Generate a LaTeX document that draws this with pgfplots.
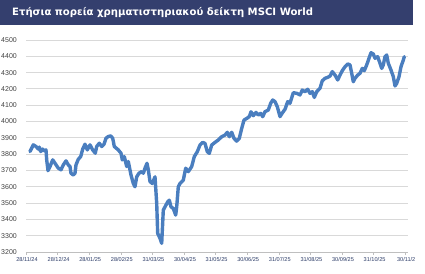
\documentclass[border=0pt]{standalone}
\usepackage{pgfplots}
\pgfplotsset{compat=1.18}
\usepackage{fontspec}
\setmainfont{Liberation Sans}
\newfontfamily\titlefont{DejaVu Sans}
\definecolor{navy}{HTML}{343F6E}
\definecolor{lineblue}{HTML}{4A7EBF}
\definecolor{gridgray}{HTML}{D9D9D9}
\definecolor{xlab}{HTML}{2A3A66}
\definecolor{ylab}{HTML}{404040}
\begin{document}
\begin{tikzpicture}[x=1pt,y=1pt]
\useasboundingbox (0,0) rectangle (425,273);
\fill[navy] (0,248) rectangle (413,273);
\node[anchor=west,text=white,inner sep=0pt,font=\titlefont\bfseries\fontsize{10.1}{12}\selectfont] at (12,260.5) {Ετήσια πορεία χρηματιστηριακού δείκτη MSCI World};
\begin{axis}[
  at={(26pt,21pt)}, anchor=south west,
  scale only axis, width=382pt, height=212pt,
  xmin=0, xmax=382, ymin=3200, ymax=4500,
  ytick={3200,3300,...,4500},
  xtick={0,31.6,63.2,94.8,126.4,158,189.6,221.2,252.8,284.4,316,347.6,379.2},
  xticklabels={28/11/24,28/12/24,28/01/25,28/02/25,31/03/25,30/04/25,31/05/25,30/06/25,31/07/25,31/08/25,30/09/25,31/10/25,30/11/2},
  axis x line*=bottom, axis y line*=left,
  x axis line style={draw=gray!50, line width=0.8pt, -},
  y axis line style={draw=none},
  ytick style={draw=none},
  xtick style={draw=gray!50, line width=0.6pt},
  tick align=outside, major tick length=3pt,
  ymajorgrids, grid style={gridgray, line width=0.9pt},
  yticklabel style={font=\fontsize{7}{8}\selectfont, text=ylab, inner sep=0pt, xshift=-6pt},
  xticklabel style={font=\fontsize{5.6}{6}\selectfont, text=xlab, inner sep=0pt, yshift=-2.5pt, xshift=1pt},
  /pgf/number format/assume math mode=true,
  yticklabel={\pgfmathprintnumber[fixed,1000 sep={}]{\tick}},
  clip=false,
]
\addplot[lineblue, line width=3.4pt, line join=round, line cap=round] coordinates {
(4.0,3816) (7.3,3857) (10.0,3847) (12.3,3831) (13.3,3843) (14.7,3816) (16.7,3831) (18.3,3820) (20.0,3826)
(20.7,3765) (22.0,3699) (24.0,3724) (26.7,3765) (29.0,3744) (32.3,3714) (35.0,3704) (37.3,3734) (40.0,3759)
(42.3,3734) (44.0,3724) (45.0,3683) (47.3,3672) (49.0,3683) (50.0,3734) (52.3,3769) (54.7,3785) (56.7,3831)
(59.0,3861) (61.3,3826) (64.0,3857) (66.7,3826) (69.3,3806) (70.7,3847) (73.3,3867) (75.7,3847) (78.0,3861)
(80.0,3898) (82.3,3908) (84.7,3912) (86.7,3898) (88.3,3847) (92.3,3826) (95.0,3806) (96.3,3765) (98.3,3785)
(100.7,3724) (102.3,3755) (105.0,3672) (107.3,3620) (109.0,3600) (110.7,3661) (113.0,3683) (115.7,3693)
(117.3,3683) (119.0,3714) (121.0,3744) (122.3,3704) (124.0,3632) (126.3,3620) (129.0,3661) (130.7,3498)
(131.7,3314) (134.0,3284) (135.7,3253) (137.3,3457) (139.0,3477) (141.7,3508) (143.3,3518) (145.0,3477)
(147.3,3467) (149.7,3426) (150.7,3477) (152.3,3600) (154.0,3620) (157.3,3641) (159.7,3714) (162.3,3693)
(165.7,3724) (168.3,3785) (171.3,3815) (174.0,3856) (176.7,3872) (179.0,3866) (181.3,3815) (183.3,3805)
(185.7,3856) (189.0,3872) (192.3,3887) (195.7,3907) (199.0,3917) (201.3,3934) (203.3,3907) (205.7,3934)
(208.0,3897) (210.7,3880) (213.3,3897) (215.7,3958) (218.0,4009) (220.7,4019) (223.3,4030) (225.0,4060)
(227.3,4036) (230.0,4056) (232.3,4040) (234.7,4050) (236.7,4030) (239.0,4060) (242.3,4071) (244.7,4112)
(246.7,4132) (249.0,4122) (251.3,4091) (254.0,4030) (256.7,4056) (259.0,4075) (261.7,4122) (264.0,4112)
(267.3,4177) (270.7,4173) (274.0,4163) (276.3,4193) (279.0,4183) (281.7,4198) (284.0,4173) (286.3,4183)
(288.3,4148) (290.7,4183) (294.0,4204) (296.3,4250) (299.0,4265) (301.7,4271) (304.0,4279) (306.3,4306)
(309.0,4285) (311.7,4255) (314.0,4285) (316.3,4312) (319.0,4336) (321.7,4353) (324.0,4347) (325.7,4296)
(327.3,4244) (329.0,4265) (331.7,4285) (334.0,4296) (336.3,4326) (338.3,4312) (340.7,4347) (343.0,4388)
(345.0,4422) (347.3,4414) (349.0,4388) (351.7,4398) (354.0,4357) (355.7,4326) (357.3,4347) (359.0,4398)
(360.7,4408) (362.3,4357) (365.0,4316) (367.3,4275) (369.0,4218) (370.7,4234) (373.0,4275) (375.0,4336)
(377.3,4377) (378.3,4398)
};
\end{axis}
\end{tikzpicture}
\end{document}
